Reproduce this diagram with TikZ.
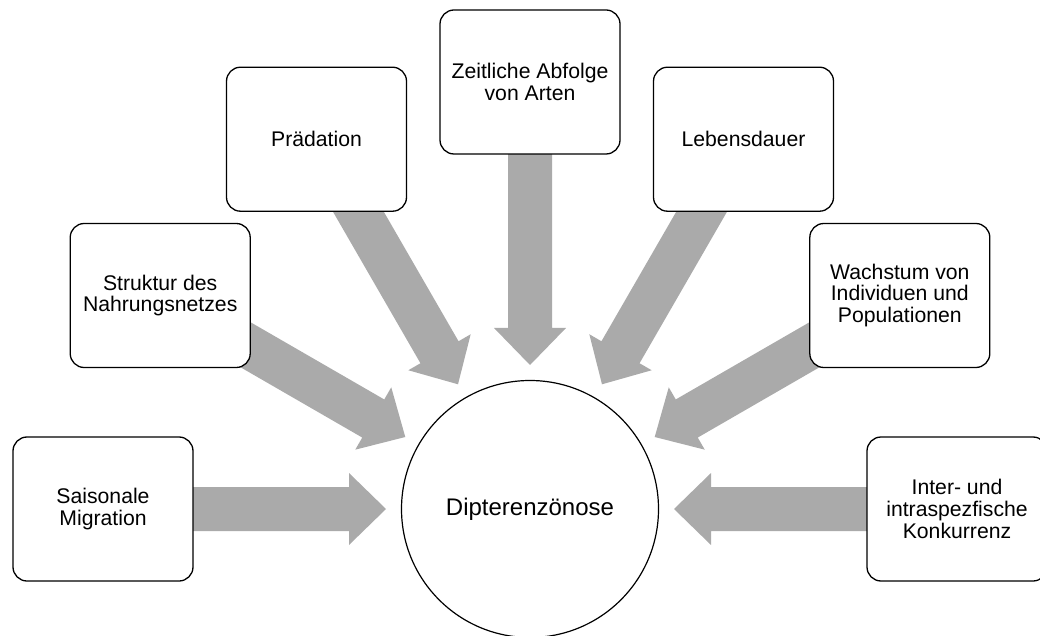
\documentclass[tikz,border=0pt]{standalone}
\usepackage{fontspec}
\setmainfont{Liberation Sans}
\usetikzlibrary{calc}
\definecolor{arrowgray}{RGB}{170,170,170}
\tikzset{
  box/.style={draw=black, line width=1.3pt, fill=white, rounded corners=14pt,
    minimum width=180pt, minimum height=144pt, inner sep=0pt, align=center,
    font=\fontsize{21.2}{21.7}\selectfont},
  hub/.style={draw=black, line width=1.2pt, fill=white, circle, minimum size=257pt,
    inner sep=0pt, font=\fontsize{24}{26}\selectfont},
  blockarrow/.style={fill=arrowgray, draw=none}
}
\begin{document}
\begin{tikzpicture}[x=1pt,y=1pt]
\useasboundingbox (0,0) rectangle (1040,635);
\clip (0,0) rectangle (1040,635);
\coordinate (c) at (530,126);
% block arrows (drawn first, boxes cover their tails)
\foreach \ang in {180,150,120,90,60,30,0}{
  \begin{scope}[shift={(c)}, rotate=\ang]
    \fill[blockarrow] (427,22) -- (181,22) -- (181,36) -- (144,0)
      -- (181,-36) -- (181,-22) -- (427,-22) -- cycle;
  \end{scope}
}
\node[hub] (hubnode) at (c) {Dipterenzönose};
\node[box] (b1) at ($(c)+(180:427)$) {Saisonale\\Migration};
\node[box] (b2) at ($(c)+(150:427)$) {Struktur des\\Nahrungsnetzes};
\node[box] (b3) at ($(c)+(120:427)$) {Prädation};
\node[box] (b4) at ($(c)+(90:427)$) {Zeitliche Abfolge\\von Arten};
\node[box] (b5) at ($(c)+(60:427)$) {Lebensdauer};
\node[box] (b6) at ($(c)+(30:427)$) {Wachstum von\\Individuen und\\Populationen};
\node[box] (b7) at ($(c)+(0:427)$) {Inter- und\\intraspezfische\\Konkurrenz};
\end{tikzpicture}
\end{document}
